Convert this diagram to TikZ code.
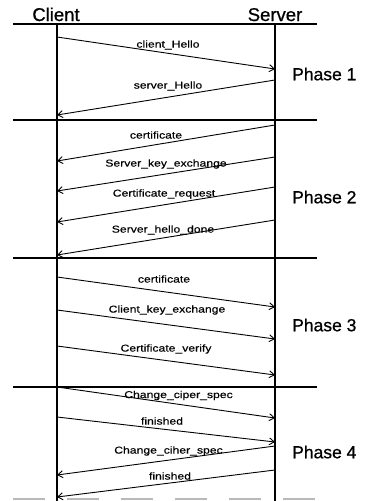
\documentclass[tikz,border=0pt]{standalone}
\usepackage{fontspec}
\setmainfont{Liberation Sans}
\newfontfamily\headfont[FakeBold=0.8]{Liberation Sans}
\newfontfamily\msgfont[FakeStretch=1.22,FakeBold=0.4]{Liberation Sans}
\usetikzlibrary{arrows.meta}
\tikzset{
  party/.style={inner sep=0pt, anchor=base, font=\headfont\fontsize{18.5}{20}\selectfont},
  phase/.style={inner sep=0pt, anchor=west, font=\headfont\fontsize{17.5}{19}\selectfont},
  lifeline/.style={line width=1.6pt},
  divider/.style={line width=2.2pt},
  msg/.style={-{Straight Barb[length=5pt,width=7pt]}, line width=0.9pt},
  msglabel/.style={inner sep=0pt, font=\msgfont\fontsize{10}{12}\selectfont}
}
\begin{document}
\begin{tikzpicture}[x=1pt,y=-1pt]
\useasboundingbox (0,0) rectangle (366,501);
% parties and lifelines
\node[party] (client) at (56,21) {Client};
\node[party] (server) at (275,21) {Server};
\coordinate (ctop) at (57,24); \coordinate (cbot) at (57,501);
\coordinate (stop) at (275,24); \coordinate (sbot) at (275,501);
\draw[lifeline] (ctop) -- (cbot);
\draw[lifeline] (stop) -- (sbot);
% phase dividers
\foreach \y/\n in {24/1, 120/2, 258/3, 387/4} {
  \coordinate (dl\n) at (13,\y); \coordinate (dr\n) at (317,\y);
  \draw[divider] (dl\n) -- (dr\n);
}
\coordinate (bl) at (13,499); \coordinate (br) at (317,499);
\draw[gray!55, line width=2pt, dash pattern=on 32pt off 22pt] (bl) -- (br);
% phase names
\node[phase] (ph1) at (292,74) {Phase 1};
\node[phase] (ph2) at (292,197) {Phase 2};
\node[phase] (ph3) at (292,325) {Phase 3};
\node[phase] (ph4) at (292,452) {Phase 4};
% message ends
\coordinate (c1) at (57,37);  \coordinate (s1) at (275,69);
\coordinate (c2) at (57,115); \coordinate (s2) at (275,80);
\coordinate (c3) at (57,161); \coordinate (s3) at (275,125);
\coordinate (c4) at (57,191); \coordinate (s4) at (275,157);
\coordinate (c5) at (57,222); \coordinate (s5) at (275,187);
\coordinate (c6) at (57,255); \coordinate (s6) at (275,220);
\coordinate (c7) at (57,277); \coordinate (s7) at (275,307);
\coordinate (c8) at (57,310); \coordinate (s8) at (275,339);
\coordinate (c9) at (57,346); \coordinate (s9) at (275,375);
\coordinate (c10) at (57,387); \coordinate (s10) at (275,418);
\coordinate (c11) at (57,417); \coordinate (s11) at (275,442);
\coordinate (c12) at (57,475); \coordinate (s12) at (275,446);
\coordinate (c13) at (57,497); \coordinate (s13) at (275,470);
% phase 1
\draw[msg] (c1) -- node[msglabel, midway, yshift=8pt, xshift=2pt] {client\_Hello} (s1);
\draw[msg] (s2) -- node[msglabel, midway, yshift=11.5pt, xshift=2pt] {server\_Hello} (c2);
% phase 2
\draw[msg] (s3) -- node[msglabel, midway, yshift=8pt, xshift=-10pt] {certificate} (c3);
\draw[msg] (s4) -- node[msglabel, midway, yshift=10pt] {Server\_key\_exchange} (c4);
\draw[msg] (s5) -- node[msglabel, midway, yshift=10.5pt, xshift=-2pt] {Certificate\_request} (c5);
\draw[msg] (s6) -- node[msglabel, midway, yshift=7.5pt, xshift=-3pt] {Server\_hello\_done} (c6);
% phase 3
\draw[msg] (c7) -- node[msglabel, midway, yshift=13pt, xshift=-2pt] {certificate} (s7);
\draw[msg] (c8) -- node[msglabel, midway, yshift=14.5pt, xshift=1pt] {Client\_key\_exchange} (s8);
\draw[msg] (c9) -- node[msglabel, midway, yshift=11.5pt] {Certificate\_verify} (s9);
% phase 4
\draw[msg] (c10) -- node[msglabel, midway, yshift=7pt, xshift=12.5pt] {Change\_ciper\_spec} (s10);
\draw[msg] (c11) -- node[msglabel, midway, yshift=8.5pt, xshift=-4pt] {finished} (s11);
\draw[msg] (s12) -- node[msglabel, midway, yshift=9.5pt, xshift=2.5pt] {Change\_ciher\_spec} (c12);
\draw[msg] (s13) -- node[msglabel, midway, yshift=7.5pt, xshift=4pt] {finished} (c13);
\end{tikzpicture}
\end{document}
